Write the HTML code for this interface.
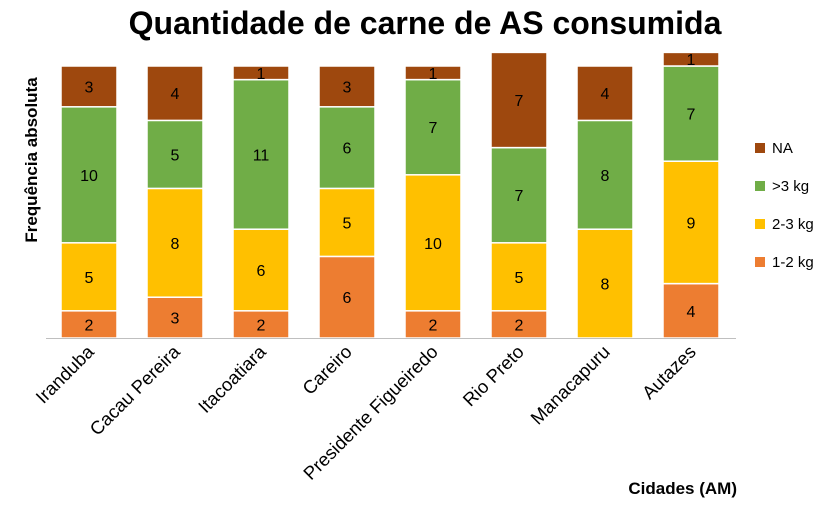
<!DOCTYPE html>
<html><head><meta charset="utf-8"><style>
body{margin:0;background:#fff;}
svg{display:block;font-family:"Liberation Sans",Arial,sans-serif;}
</style></head><body>
<svg id="chart" width="830" height="511">
<text x="425" y="34" text-anchor="middle" font-size="32" font-weight="bold" fill="#000">Quantidade de carne de AS consumida</text>
<text transform="translate(37,160) rotate(-90)" text-anchor="middle" font-size="17" font-weight="bold">Frequência absoluta</text>
<text x="737" y="494" text-anchor="end" font-size="17" font-weight="bold">Cidades (AM)</text>
<g id="bars"></g>
<line x1="46" y1="338.5" x2="736" y2="338.5" stroke="#bfbfbf" stroke-width="1"/>
<g id="legend"></g>
</svg>
<script>
const categories=["Iranduba","Cacau Pereira","Itacoatiara","Careiro","Presidente Figueiredo","Rio Preto","Manacapuru","Autazes"];
const s12=[2,3,2,6,2,2,0,4];
const s23=[5,8,6,5,10,5,8,9];
const s3=[10,5,11,6,7,7,8,7];
const sNA=[3,4,1,3,1,7,4,1];
const seriesNames=["1-2 kg","2-3 kg",">3 kg","NA"];
const colors=["#ED7D31","#FFC000","#70AD47","#9E480E"];
const series=[s12,s23,s3,sNA];
const NS="http://www.w3.org/2000/svg";
const y0=338, unit=13.6, xStart=89, step=86, bw=56;
const yS=v=>y0-v*unit;
const xS=i=>xStart+i*step;
const g=document.getElementById('bars');
categories.forEach((c,i)=>{
  let cum=0;
  series.forEach((s,k)=>{
    const v=s[i]; if(!v){return;}
    const r=document.createElementNS(NS,'rect');
    r.setAttribute('x',xS(i)-bw/2);r.setAttribute('y',yS(cum+v));
    r.setAttribute('width',bw);r.setAttribute('height',v*unit);
    r.setAttribute('fill',colors[k]);r.setAttribute('stroke','#fff');r.setAttribute('stroke-width','1.5');
    
    
    g.appendChild(r);
    const t=document.createElementNS(NS,'text');
    t.setAttribute('x',xS(i));t.setAttribute('y',yS(cum+v/2)+6);
    t.setAttribute('text-anchor','middle');t.setAttribute('font-size','16');t.setAttribute('fill','#000');
    t.textContent=v;
    
    
    g.appendChild(t);
    cum+=v;
  });
  const l=document.createElementNS(NS,'text');
  l.setAttribute('transform','translate('+(xS(i)+6)+',353) rotate(-45)');
  l.setAttribute('text-anchor','end');l.setAttribute('font-size','18.5');
  l.textContent=c;
  
  
  g.appendChild(l);
});
const lg=document.getElementById('legend');
const order=[3,2,1,0];
order.forEach((k,j)=>{
  const y=148+j*38;
  const r=document.createElementNS(NS,'rect');
  r.setAttribute('x',755);r.setAttribute('y',y-5);r.setAttribute('width',10);r.setAttribute('height',10);
  r.setAttribute('fill',colors[k]);
  
  
  lg.appendChild(r);
  const t=document.createElementNS(NS,'text');
  t.setAttribute('x',772);t.setAttribute('y',y+5);t.setAttribute('font-size','15');
  t.textContent=seriesNames[k];
  
  
  lg.appendChild(t);
});
</script>
</body></html>
